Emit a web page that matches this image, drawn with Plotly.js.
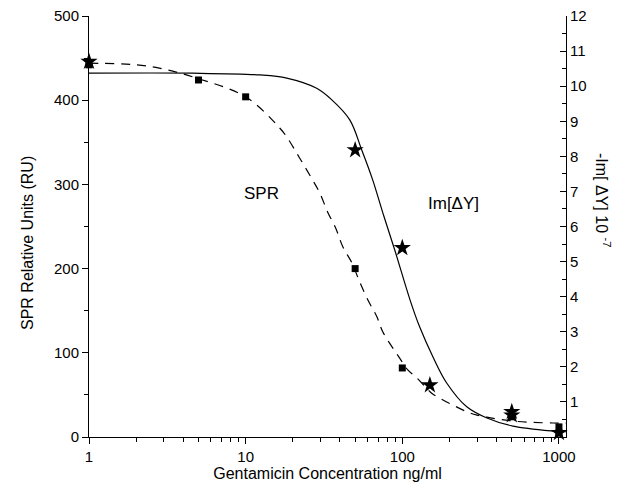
<!DOCTYPE html>
<html>
<head>
<meta charset="utf-8">
<script src="https://cdn.plot.ly/plotly-3.0.1.min.js"></script>
<style>html,body{margin:0;padding:0;background:#fff;}#chart{width:619px;height:491px;}</style>
</head>
<body>
<div id="chart"></div>
<script>
// SPR measured points (left axis, RU)
const sprX = [1, 5, 10, 50, 100, 500, 1000, 1000];
const sprY = [442, 424, 404, 200, 82, 24, 12, 5];
// Im[ΔY] measured points (right axis, 10^-7)
const imX = [1, 50, 100, 150, 500, 500, 1000];
const imY = [10.7, 8.18, 5.39, 1.48, 0.72, 0.62, 0.12];
// SPR fitted curve (dashed, left axis)
const sprFitX = [1, 2, 3, 4.9, 10, 16.5, 18.5, 22, 26.4, 29.7, 33.4, 37.6, 41.7, 47.6, 53.5, 60.2, 68.7, 75, 86, 96, 108, 124, 143, 154, 174, 210, 258, 300, 347, 420, 540, 683, 916, 1109];
const sprFitY = [444, 442, 437, 426, 404, 367, 355, 332, 307, 290, 267, 248, 226, 207, 184, 163, 143, 125, 107, 94, 80, 70, 58, 52, 46, 38, 30, 26, 23.5, 21, 18.5, 17.3, 16.6, 16.4];
// Im[ΔY] fitted curve (solid, right axis)
const imFitX = [1, 4.6, 12.3, 18.3, 28.4, 35.5, 46.2, 55.1, 64.7, 75.1, 89.5, 112, 129, 157, 192, 258, 347, 508, 916, 1109];
const imFitY = [10.37, 10.37, 10.32, 10.23, 9.94, 9.61, 9.04, 8.18, 7.33, 6.39, 5.33, 3.91, 3.14, 2.28, 1.54, 0.86, 0.54, 0.31, 0.17, 0.15];
// axis ticks
const xTickVals = [1, 10, 100, 1000];
const xTickText = ['1', '10', '100', '1000'];
const xMinor = [2,3,4,5,6,7,8,9,20,30,40,50,60,70,80,90,200,300,400,500,600,700,800,900];
const yTickVals = [0, 100, 200, 300, 400, 500];
const y2TickVals = [1,2,3,4,5,6,7,8,9,10,11,12];

const font = {family: 'Liberation Sans, Arial, sans-serif', color: '#000'};

const traces = [
  {x: sprFitX, y: sprFitY, type: 'scatter', mode: 'lines', yaxis: 'y',
   line: {color: '#000', width: 1.2, dash: '9px,7px', shape: 'spline', smoothing: 1}, hoverinfo: 'skip'},
  {x: imFitX, y: imFitY, type: 'scatter', mode: 'lines', yaxis: 'y2',
   line: {color: '#000', width: 1.2, shape: 'spline', smoothing: 1}, hoverinfo: 'skip'},
  {x: sprX, y: sprY, type: 'scatter', mode: 'markers', yaxis: 'y', cliponaxis: false,
   marker: {symbol: 'square', size: 7, color: '#000'}},
  {x: imX, y: imY, type: 'scatter', mode: 'markers', yaxis: 'y2', cliponaxis: false,
   marker: {symbol: 'star', size: 13, color: '#000'}}
];

const layout = {
  width: 619, height: 491,
  margin: {l: 89, r: 53, t: 16, b: 54},
  paper_bgcolor: '#fff', plot_bgcolor: '#fff',
  showlegend: false,
  font: Object.assign({size: 15}, font),
  xaxis: {
    type: 'log', range: [0, 3.045],
    tickmode: 'array', tickvals: xTickVals, ticktext: xTickText,
    ticks: 'outside', ticklen: 6, tickwidth: 1, tickcolor: '#000',
    minor: {tickmode: 'array', tickvals: xMinor, ticks: 'outside', ticklen: 4, tickwidth: 1, tickcolor: '#000', showgrid: false},
    showline: true, linecolor: '#000', linewidth: 1, showgrid: false, zeroline: false,
    tickfont: Object.assign({size: 15}, font),
    title: {text: 'Gentamicin Concentration ng/ml', font: Object.assign({size: 16}, font), standoff: 3}
  },
  yaxis: {
    range: [0, 500], tickmode: 'array', tickvals: yTickVals,
    ticks: 'outside', ticklen: 6, tickwidth: 1, tickcolor: '#000',
    minor: {dtick: 50, ticks: 'outside', ticklen: 4, tickwidth: 1, tickcolor: '#000', showgrid: false},
    showline: true, linecolor: '#000', linewidth: 1, showgrid: false, zeroline: false,
    tickfont: Object.assign({size: 15}, font)
  },
  yaxis2: {
    overlaying: 'y', side: 'right', range: [0, 12],
    tickmode: 'array', tickvals: y2TickVals,
    ticks: 'inside', ticklen: 6, tickwidth: 1, tickcolor: '#000',
    minor: {dtick: 0.5, ticks: 'inside', ticklen: 4, tickwidth: 1, tickcolor: '#000', showgrid: false},
    showline: true, linecolor: '#000', linewidth: 1, showgrid: false, zeroline: false,
    tickfont: Object.assign({size: 15}, font)
  },
  annotations: [
    {text: 'SPR Relative Units (RU)', textangle: -90, xref: 'paper', yref: 'paper',
     x: (27 - 89) / 477, y: (437 - 243) / 421, showarrow: false, xanchor: 'center', yanchor: 'middle',
     font: Object.assign({size: 16}, font)},
    {text: '-Im[ ΔY] 10 <sup>-7</sup>', textangle: 90, xref: 'paper', yref: 'paper',
     x: (603 - 89) / 477, y: (437 - 200) / 421, showarrow: false, xanchor: 'center', yanchor: 'middle',
     font: Object.assign({size: 16}, font)},
    {text: 'SPR', xref: 'paper', yref: 'paper',
     x: (261 - 89) / 477, y: (437 - 194) / 421, showarrow: false, xanchor: 'center', yanchor: 'middle',
     font: Object.assign({size: 17}, font)},
    {text: 'Im[ΔY]', xref: 'paper', yref: 'paper',
     x: (453 - 89) / 477, y: (437 - 203) / 421, showarrow: false, xanchor: 'center', yanchor: 'middle',
     font: Object.assign({size: 17}, font)}
  ]
};

Plotly.newPlot('chart', traces, layout, {displayModeBar: false, staticPlot: true});
</script>
</body>
</html>
